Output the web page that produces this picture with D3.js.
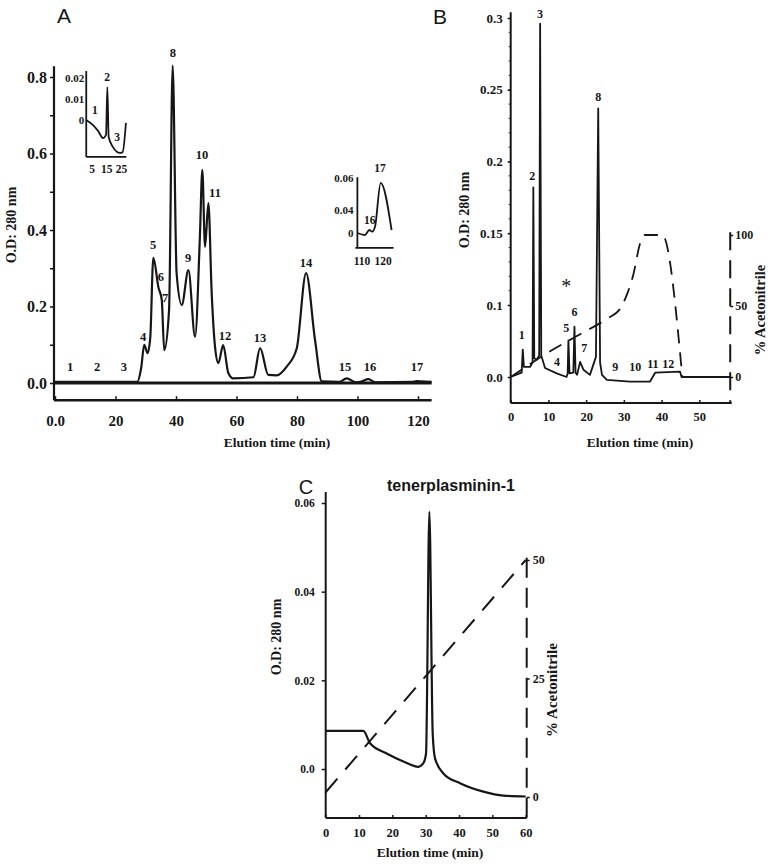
<!DOCTYPE html>
<html><head><meta charset="utf-8">
<script src="https://cdn.jsdelivr.net/npm/d3@7"></script>
<style>body{margin:0;background:#fff} svg{display:block}</style>
</head><body><svg id="c" width="772" height="865"></svg>
<script>
// ---------- Panel A : main chromatogram ----------
const aTime = [0, 15, 27.2, 28.5, 29.5, 30.6, 31.5, 32.5, 34.2, 35.3, 36.1, 37.7, 38.9, 40.2, 41.9, 44.1, 46.3, 47.9, 48.7, 49.6, 50.7, 51.8, 52.9, 54.0, 55.6, 57.3, 58.9, 65.6, 67.8, 70.5, 73.3, 76.6, 79.9, 83.0, 86.0, 88.2, 94.0, 96.4, 99.5, 101, 103.6, 105.8, 118, 119.6, 121, 124.5];
const aOD   = [0.003, 0.003, 0.003, 0.04, 0.10, 0.078, 0.12, 0.327, 0.25, 0.217, 0.086, 0.19, 0.83, 0.287, 0.204, 0.295, 0.121, 0.383, 0.557, 0.356, 0.47, 0.235, 0.095, 0.052, 0.099, 0.026, 0.012, 0.015, 0.091, 0.021, 0.02, 0.043, 0.09, 0.287, 0.11, 0.004, 0.003, 0.012, 0.002, 0.003, 0.01, 0.002, 0.003, 0.005, 0.004, 0.003];
const aPeakNames = ["1","2","3","4","5","6","7","8","9","10","11","12","13","14","15","16","17"];
const aPeakT     = [5, 13.9, 22.8, 29.1, 32.4, 35, 36.4, 39, 44, 48.6, 52.9, 56.2, 67.8, 83, 95.9, 104.1, 119.7];
const aPeakOD    = [0.042, 0.042, 0.042, 0.12, 0.363, 0.277, 0.222, 0.865, 0.327, 0.596, 0.497, 0.125, 0.118, 0.316, 0.042, 0.042, 0.042];
const aYTicks = [0, 0.1, 0.2, 0.3, 0.4, 0.5, 0.6, 0.7, 0.8];
const aXTicks = [0, 20, 40, 60, 80, 100, 120];

// inset 1 (peaks 1-3)
const i1Time = [1, 5.7, 9.1, 12.5, 14.5, 15.4, 16.3, 19.2, 24, 25.8, 28];
const i1OD   = [0, -0.0024, -0.0052, -0.0086, -0.0071, 0.0157, -0.0081, -0.0129, -0.0157, -0.0152, -0.0014];
const i1Names = ["1","2","3"];
const i1PeakT = [7, 15.2, 22];
const i1PeakOD = [0.0048, 0.0205, -0.0081];
const i1YTicks = [0, 0.01, 0.02];
const i1XTicks = [5, 15, 25];

// inset 2 (peaks 16-17)
const i2Time = [107.8, 111.4, 113.5, 114.8, 116.2, 118.9, 124.1];
const i2OD   = [0, -0.0035, 0.0052, 0.0023, 0.011, 0.057, 0.005];
const i2Names = ["16","17"];
const i2PeakT = [113.7, 118.6];
const i2PeakOD = [0.0226, 0.066];
const i2YTicks = [0, 0.04, 0.06];
const i2XTicks = [110, 120];

// ---------- Panel B ----------
const bTime = [0, 2.9, 3.2, 3.5, 5.1, 5.8, 6.0, 6.25, 6.9, 7.55, 7.8, 8.1, 9.1, 12.2, 14.8, 15.1, 15.3, 15.6, 16.6, 16.9, 17.2, 17.6, 18.4, 19.3, 21, 22.6, 23.2, 23.7, 24.2, 25.5, 31.6, 36.9, 38.3, 44.9, 45.3, 58.2];
const bOD   = [0, 0.006, 0.038, 0.014, 0.014, 0.02, 0.182, 0.026, 0.024, 0.03, 0.296, 0.03, 0.0125, 0.005, 0.0, 0.005, 0.051, 0.005, 0.006, 0.07, 0.006, 0.003, 0.021, 0.01, 0.003, 0.028, 0.237, 0.02, 0.003, -0.004, -0.0065, -0.0065, 0.006, 0.0074, 0.0, 0.0];
const bGradTime = [0, 11, 19, 25.5, 29, 30.8, 32.5, 34.3, 35.5, 40.2, 45.5];
const bGradPct  = [0, 19, 31, 41, 48, 58, 72, 94, 100, 100, 0];
const bPeakNames = ["1","2","3","4","5","6","7","8","9","10","11","12"];
const bPeakT  = [2.9, 5.7, 7.8, 12.3, 14.7, 16.9, 19.5, 23.2, 27.7, 33, 37.7, 41.8];
const bPeakOD = [0.058, 0.19, 0.303, 0.021, 0.069, 0.09, 0.04, 0.245, 0.014, 0.014, 0.019, 0.019];
const bStarT = 14.7, bStarOD = 0.116;
const bYTicks = [0, 0.1, 0.15, 0.2, 0.25, 0.3];
const bYTickLabels = ["0.0", "0.1", "0.15", "0.2", "0.25", "0.3"];
const bXTicks = [0, 10, 20, 30, 40, 50];
const bPctTicks = [0, 50, 100];

// ---------- Panel C ----------
const cTime = [0, 11.3, 13.3, 18.3, 23.3, 27.8, 29.3, 30.1, 31.1, 32.1, 32.8, 35.3, 40.3, 47.3, 53.3, 60];
const cOD   = [0.0086, 0.0086, 0.0058, 0.0035, 0.0017, 0.0005, 0.0013, 0.0035, 0.058, 0.008, 0.0024, -0.001, -0.0032, -0.0051, -0.006, -0.0062];
const cGradTime = [0, 60];
const cGradPct  = [1, 50];
const cYTicks = [0, 0.02, 0.04, 0.06];
const cYTickLabels = ["0.0", "0.02", "0.04", "0.06"];
const cXTicks = [0, 10, 20, 30, 40, 50, 60];
const cPctTicks = [0, 25, 50];
const cTitle = "tenerplasminin-1";

// ================= drawing =================
const svg = d3.select("#c");
const serif = "'Liberation Serif','Times New Roman',serif";
const sans = "'Liberation Sans',Arial,sans-serif";
const ink = "#161616";

function text(x, y, s, size, opt = {}) {
  const t = svg.append("text").attr("x", x).attr("y", y).text(s)
    .attr("font-family", opt.family || serif)
    .attr("font-weight", opt.weight || "bold")
    .attr("font-size", size)
    .attr("fill", ink)
    .attr("text-anchor", opt.anchor || "middle");
  if (opt.dy) t.attr("dy", opt.dy);
  if (opt.rotate) t.attr("transform", `rotate(${opt.rotate},${x},${y})`);
  return t;
}
function vline(x, y1, y2, w, dash) {
  const l = svg.append("line").attr("x1", x).attr("x2", x).attr("y1", y1).attr("y2", y2)
    .attr("stroke", ink).attr("stroke-width", w);
  if (dash) l.attr("stroke-dasharray", dash);
  return l;
}
function hline(y, x1, x2, w) {
  return svg.append("line").attr("x1", x1).attr("x2", x2).attr("y1", y).attr("y2", y)
    .attr("stroke", ink).attr("stroke-width", w);
}
function styleAxis(g, size) {
  g.select(".domain").remove();
  g.selectAll("line").attr("stroke", ink).attr("stroke-width", 1.5);
  g.selectAll("text").attr("font-family", serif).attr("font-weight", "bold")
    .attr("font-size", size).attr("fill", ink);
}
function trace(xs, ys, t, v, curve, w, dash) {
  const line = d3.line().x((d, i) => xs(t[i])).y((d, i) => ys(v[i])).curve(curve);
  const p = svg.append("path").attr("d", line(t)).attr("fill", "none")
    .attr("stroke", ink).attr("stroke-width", w).attr("stroke-linejoin", "round");
  if (dash) p.attr("stroke-dasharray", dash);
  return p;
}

// ---------- A ----------
const xA = d3.scaleLinear().domain([0, 120]).range([55, 418]);
const yA = d3.scaleLinear().domain([0, 0.8]).range([383, 77]);
vline(xA(0) - 1, yA(0.828), yA(-0.045), 2.2);
hline(yA(-0.045), xA(0) - 1, xA(124.5), 2.6);
hline(yA(0), xA(0), xA(124.5), 3);
styleAxis(svg.append("g").attr("transform", `translate(${xA(0) - 1},0)`)
  .call(d3.axisLeft(yA).tickValues(aYTicks).tickSize(4).tickPadding(3)
    .tickFormat(d => (Math.round(d * 10) % 2 === 0) ? d3.format(".1f")(d) : "")), 16);
styleAxis(svg.append("g").attr("transform", `translate(0,${yA(-0.045)})`)
  .call(d3.axisBottom(xA).tickValues(aXTicks).tickSize(-4).tickPadding(15)
    .tickFormat(d => d === 0 ? "0.0" : d)), 15);
trace(xA, yA, aTime, aOD, d3.curveMonotoneX, 2.2);
aPeakNames.forEach((n, i) => text(xA(aPeakT[i]), yA(aPeakOD[i]), n, 12.5, { dy: "0.35em" }));
text(277, 447, "Elution time (min)", 13.5);
text(16, 225, "O.D: 280 nm", 14, { rotate: -90 });
text(64, 23, "A", 21, { family: sans, weight: "normal" });

// inset 1
const xI1 = d3.scaleLinear().domain([5, 25]).range([92, 121.5]);
const yI1 = d3.scaleLinear().domain([0, 0.02]).range([120, 78]);
vline(xI1(1.1), yI1(0.0233), yI1(-0.0176), 1.8);
hline(yI1(-0.0176), xI1(1.1), xI1(28.3), 1.8);
i1YTicks.forEach(v => text(xI1(1.1) - 2, yI1(v), v === 0 ? "0" : d3.format(".2f")(v), 11, { anchor: "end", dy: "0.35em" }));
i1XTicks.forEach(v => text(xI1(v), yI1(-0.0176) + 12, v, 11.5, { dy: "0.35em" }));
trace(xI1, yI1, i1Time, i1OD, d3.curveMonotoneX, 1.8);
i1Names.forEach((n, i) => text(xI1(i1PeakT[i]), yI1(i1PeakOD[i]), n, 11.5, { dy: "0.35em" }));

// inset 2
const xI2 = d3.scaleLinear().domain([110, 120]).range([362, 383]);
const yI2 = d3.scaleLinear().domain([0, 0.04, 0.06]).range([233, 210, 178]);
vline(xI2(107.8), yI2(0.0605), yI2(-0.026), 1.8);
hline(yI2(-0.026), xI2(107.8) - 2, xI2(125), 1.8);
i2YTicks.forEach(v => text(xI2(107.8) - 4, yI2(v), v === 0 ? "0" : d3.format(".2f")(v), 11, { anchor: "end", dy: "0.35em" }));
i2XTicks.forEach(v => text(xI2(v), yI2(-0.026) + 13, v, 11.5, { dy: "0.35em" }));
trace(xI2, yI2, i2Time, i2OD, d3.curveMonotoneX, 1.8);
i2Names.forEach((n, i) => text(xI2(i2PeakT[i]), yI2(i2PeakOD[i]), n, 11.5, { dy: "0.35em" }));

// ---------- B ----------
const xB = d3.scaleLinear().domain([0, 50]).range([510.7, 699.3]);
const yB = d3.scaleLinear().domain([0, 0.1, 0.3]).range([377, 305, 18]);
const pB = d3.scaleLinear().domain([0, 100]).range([377, 235]);
vline(xB(0), yB(0.304), 403, 2);
hline(403, xB(0), xB(58.6), 2);
vline(xB(58.2), pB(102), 403, 2, "18,10");
styleAxis(svg.append("g").attr("transform", `translate(${xB(0)},0)`)
  .call(d3.axisLeft(yB).tickValues(bYTicks).tickSize(3).tickPadding(5)
    .tickFormat((d, i) => bYTickLabels[i])), 13);
// minor ticks on B y axis
svg.append("g").selectAll("line").data(d3.range(0.11, 0.3, 0.01)).join("line")
  .attr("x1", xB(0) - 2).attr("x2", xB(0)).attr("y1", d => yB(d)).attr("y2", d => yB(d))
  .attr("stroke", ink).attr("stroke-width", 1);
styleAxis(svg.append("g").attr("transform", `translate(0,403)`)
  .call(d3.axisBottom(xB).tickValues(bXTicks).tickSize(-3).tickPadding(9)), 12.5);
styleAxis(svg.append("g").attr("transform", `translate(${xB(58.2)},0)`)
  .call(d3.axisRight(pB).tickValues(bPctTicks).tickSize(3).tickPadding(2)), 12);
trace(xB, pB, bGradTime, bGradPct, d3.curveMonotoneX, 1.8, "14,9");
trace(xB, yB, bTime, bOD, d3.curveLinear, 1.8);
bPeakNames.forEach((n, i) => text(xB(bPeakT[i]), yB(bPeakOD[i]), n, 12, { dy: "0.35em" }));
text(xB(bStarT), yB(bStarOD), "*", 20, { dy: "0.55em", weight: "normal" });
text(640, 447, "Elution time (min)", 13.5);
text(469, 210, "O.D: 280 nm", 14, { rotate: -90 });
text(765, 310, "% Acetonitrile", 14.5, { rotate: -90 });
text(440, 24, "B", 21, { family: sans, weight: "normal" });

// ---------- C ----------
const xC = d3.scaleLinear().domain([0, 60]).range([325.7, 525.7]);
const yC = d3.scaleLinear().domain([0, 0.06]).range([769, 503]);
const pC = d3.scaleLinear().domain([0, 50]).range([797, 560]);
vline(xC(0), yC(0.0625), 818, 2);
hline(818, xC(0), xC(60.3), 2);
vline(xC(60.3), pC(50.5), 818, 2, "20,10");
styleAxis(svg.append("g").attr("transform", `translate(${xC(0)},0)`)
  .call(d3.axisLeft(yC).tickValues(cYTicks).tickSize(4).tickPadding(7)
    .tickFormat((d, i) => cYTickLabels[i])), 11.5);
styleAxis(svg.append("g").attr("transform", `translate(0,818)`)
  .call(d3.axisBottom(xC).tickValues(cXTicks).tickSize(-3).tickPadding(10)), 12.5);
styleAxis(svg.append("g").attr("transform", `translate(${xC(60.3)},0)`)
  .call(d3.axisRight(pC).tickValues(cPctTicks).tickSize(3).tickPadding(3)), 12);
trace(xC, pC, cGradTime, cGradPct, d3.curveLinear, 2, "18,12");
trace(xC, yC, cTime, cOD, d3.curveMonotoneX, 2.2);
text(430, 857, "Elution time (min)", 13.5);
text(281, 637, "O.D: 280 nm", 14, { rotate: -90 });
text(557, 690, "% Acetonitrile", 15, { rotate: -90 });
text(451, 491, cTitle, 16, { family: sans });
text(306, 494, "C", 20, { family: sans, weight: "normal" });
</script></body></html>
